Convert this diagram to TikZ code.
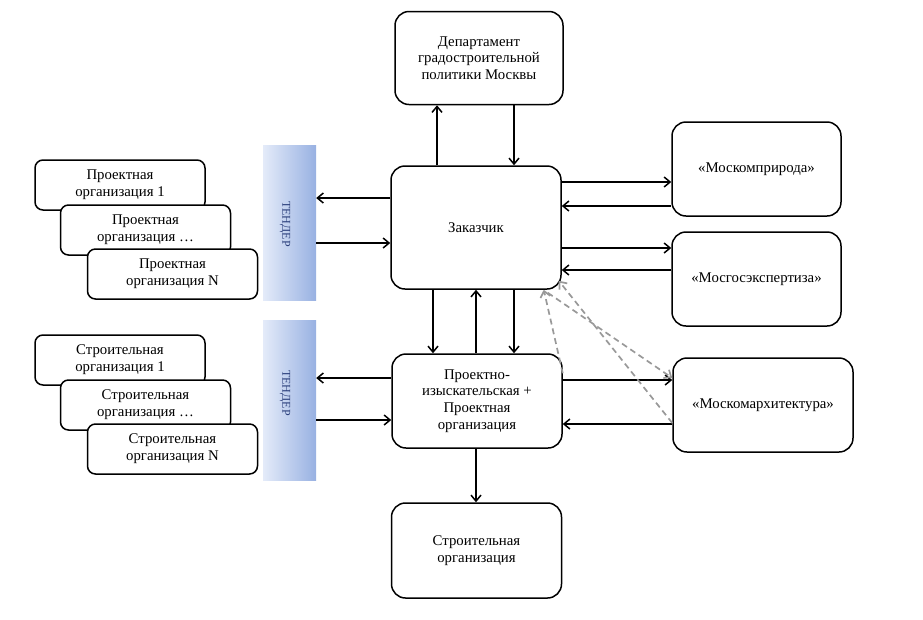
\documentclass[tikz,border=0pt]{standalone}
\usepackage{fontspec}
\setmainfont{Liberation Serif}
\usetikzlibrary{arrows.meta}
\definecolor{tenderl}{RGB}{228,235,249}
\definecolor{tenderr}{RGB}{152,177,226}
\definecolor{tendert}{RGB}{45,65,125}
\tikzset{
  txt/.style={font=\fontsize{14.8}{16.7}\selectfont},
  box/.style={txt, draw, line width=1.5pt, rounded corners=14pt, fill=white,
    align=center, minimum width=170pt, minimum height=94pt, inner sep=2pt},
  org/.style={txt, draw, line width=1.5pt, rounded corners=8pt, fill=white,
    align=center, minimum width=170pt, minimum height=50pt, inner sep=2pt},
  tender/.style={minimum width=53pt, left color=tenderl, right color=tenderr},
  tendertxt/.style={font=\fontsize{12}{14}\selectfont, text=tendert, rotate=-90},
  link/.style={line width=1.5pt, -{Straight Barb[length=6pt,width=10pt]}},
  hint/.style={link, gray!80, line width=1.7pt, dash pattern=on 6pt off 4pt}
}
\begin{document}
\begin{tikzpicture}[x=1pt,y=-1pt]
  \useasboundingbox (0,0) rectangle (923,619);
  % central column
  \node[box, minimum width=168pt, minimum height=93pt] (dep) at (479,58)
    {Департамент\\градостроительной\\политики Москвы};
  \node[box, minimum height=123pt] (zak) at (476,227.5) {Заказчик};
  \node[box] (proekt) at (477,401)
    {Проектно-\\изыскательская +\\Проектная\\организация};
  \node[box, minimum height=95pt] (stroi) at (476.5,550.5)
    {Строительная\\организация};
  % right column
  \node[box, minimum width=169pt] (priroda) at (756.5,169) {«Москомприрода»};
  \node[box, minimum width=169pt] (expert) at (756.5,279) {«Мосгосэкспертиза»};
  \node[box, minimum width=180pt] (arkh) at (763,405) {«Москомархитектура»};
  % tenders
  \node[tender, minimum height=155pt] (tp) at (289.5,222.5) {};
  \node[tender, minimum height=160pt] (ts) at (289.5,400) {};
  \node[tendertxt] (tpt) at (285,224) {ТЕНДЕР};
  \node[tendertxt] (tst) at (285,393) {ТЕНДЕР};
  % bidders
  \node[org] (po1) at (120,185) {Проектная\\организация 1};
  \node[org] (po2) at (145.5,230) {Проектная\\организация …};
  \node[org] (po3) at (172.5,274) {Проектная\\организация N};
  \node[org] (so1) at (120,360) {Строительная\\организация 1};
  \node[org] (so2) at (145.5,405) {Строительная\\организация …};
  \node[org] (so3) at (172.5,449) {Строительная\\организация N};
  \begin{scope}[link]
    \draw (zak.north -| 437,0) to (dep.south -| 437,0);
    \draw (dep.south -| 514,0) to (zak.north -| 514,0);
    \draw (zak.west |- 0,198) to (tp.east |- 0,198);
    \draw (tp.east |- 0,243) to (zak.west |- 0,243);
    \draw (proekt.west |- 0,378) to (ts.east |- 0,378);
    \draw (ts.east |- 0,420) to (proekt.west |- 0,420);
    \draw (zak.south -| 433,0) to (proekt.north -| 433,0);
    \draw (proekt.north -| 476,0) to (zak.south -| 476,0);
    \draw (zak.south -| 514,0) to (proekt.north -| 514,0);
    \draw (proekt.south -| 476,0) to (stroi.north -| 476,0);
    \draw (zak.east |- 0,182) to (priroda.west |- 0,182);
    \draw (priroda.west |- 0,206) to (zak.east |- 0,206);
    \draw (zak.east |- 0,248) to (expert.west |- 0,248);
    \draw (expert.west |- 0,270) to (zak.east |- 0,270);
    \draw (proekt.east |- 0,380) to (arkh.west |- 0,380);
    \draw (arkh.west |- 0,424) to (proekt.east |- 0,424);
  \end{scope}
  \begin{scope}[hint]
    \draw ([yshift=-20]proekt.north east) to ([xshift=-18]zak.south east);
    \draw ([xshift=-14,yshift=-3]zak.south east) to (arkh.west |- 0,378);
    \draw (arkh.west |- 0,423) to ([xshift=-3,yshift=9]zak.south east);
  \end{scope}
\end{tikzpicture}
\end{document}
